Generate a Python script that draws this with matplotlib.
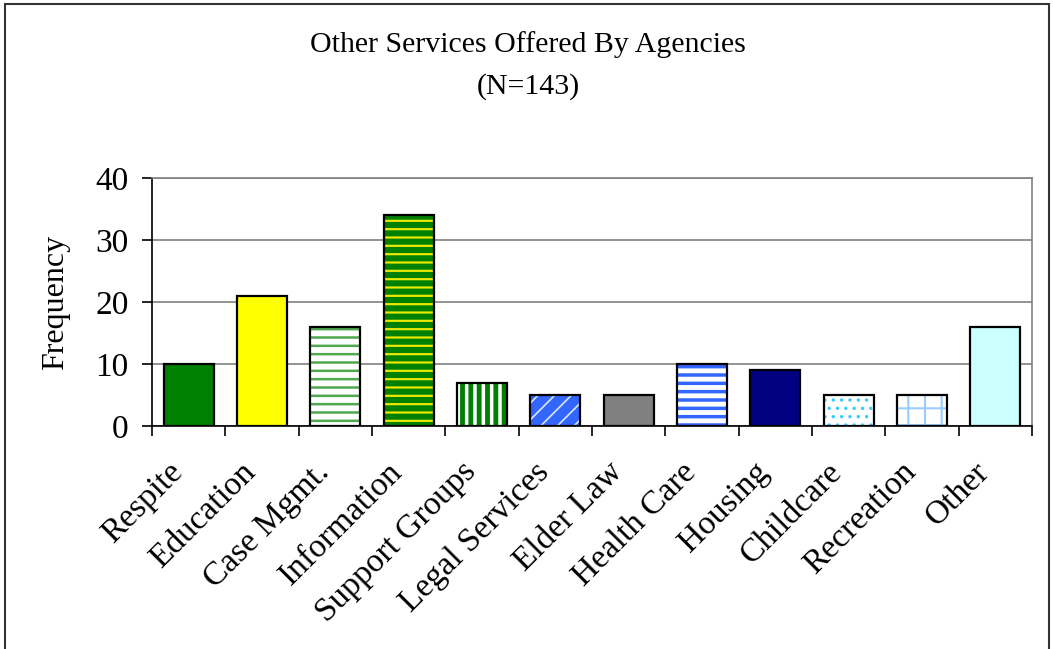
import matplotlib
matplotlib.use("Agg")
import matplotlib.pyplot as plt
from matplotlib.patches import Rectangle
from matplotlib.transforms import ScaledTranslation

plt.rcParams['font.family'] = ['Liberation Serif', 'DejaVu Serif']

services = ['Respite', 'Education', 'Case Mgmt.', 'Information', 'Support Groups',
            'Legal Services', 'Elder Law', 'Health Care', 'Housing', 'Childcare',
            'Recreation', 'Other']
frequency = [10, 21, 16, 34, 7, 5, 5, 10, 9, 5, 5, 16]

# fill colour, hatch colour, hatch pattern and hatch width per bar
faces = ['#008000', '#FFFF00', '#FFFFFF', '#008000', '#FFFFFF', '#3366FF',
         '#808080', '#3366FF', '#000080', '#FFFFFF', '#FFFFFF', '#CCFFFF']
hatch_colors = ['#008000', '#FFFF00', '#4FA84F', '#E8E800', '#008000', '#DDE6FF',
                '#808080', '#FFFFFF', '#000080', '#33CCFF', '#99CCFF', '#CCFFFF']
hatches = [None, None, '--', '--', '||', '//', None, '--', None, '..', '+', None]
hatch_widths = [1, 1, 1.8, 1.6, 3.5, 1.2, 1, 3.5, 1, 1.2, 1.5, 1]

fig = plt.figure(figsize=(10.53, 6.49), dpi=100)
fig.patches.append(Rectangle((5 / 1053, -0.05), 1044 / 1053, 1.05 - 4 / 649,
                             transform=fig.transFigure, fill=False,
                             edgecolor='#333333', linewidth=1.5))

ax = fig.add_axes([152 / 1053, 1 - 426 / 649, 880 / 1053, 248 / 649])
x = list(range(len(services)))
width = 0.68

# patterned fill, then black outline on top
for i in x:
    with plt.rc_context({'hatch.linewidth': hatch_widths[i]}):
        ax.bar(i, frequency[i], width=width, facecolor=faces[i],
               edgecolor=hatch_colors[i], linewidth=0, hatch=hatches[i], zorder=2)
ax.bar(x, frequency, width=width, fill=False, edgecolor='black',
       linewidth=1.6, zorder=3)

ax.set_xlim(-0.5, len(services) - 0.5)
ax.set_ylim(0, 40)
ax.set_yticks([0, 10, 20, 30, 40])
ax.yaxis.grid(True, color='#808080', linewidth=1.2, zorder=0)
ax.set_axisbelow(True)
for side in ['top', 'right']:
    ax.spines[side].set_color('#808080')
    ax.spines[side].set_linewidth(1.2)
ax.spines['left'].set_linewidth(1.2)
ax.spines['bottom'].set_linewidth(1.2)

ax.set_xticks([i - 0.5 for i in range(len(services) + 1)])
ax.set_xticklabels([])
ax.set_xticks(x, minor=True)
ax.set_xticklabels(services, minor=True, rotation=45, ha='right', va='center',
                   rotation_mode='anchor', fontsize=24)
ax.tick_params(axis='x', which='minor', length=0, pad=14)
ax.tick_params(axis='x', which='major', length=7, width=1.2)
ax.tick_params(axis='y', length=7, width=1.2, labelsize=24, pad=10)

# nudge the slanted category names down and to the left
shift = ScaledTranslation(-0.11, -0.22, fig.dpi_scale_trans)
for lbl in ax.get_xticklabels(minor=True):
    lbl.set_transform(lbl.get_transform() + shift)

ax.set_ylabel('Frequency', fontsize=23, labelpad=18)

fig.text(0.5015, 1 - 45 / 649, 'Other Services Offered By Agencies',
         ha='center', va='center', fontsize=21.5)
fig.text(0.5015, 1 - 87 / 649, '(N=143)', ha='center', va='center', fontsize=21.5)

fig.savefig('out.png', dpi=100)
